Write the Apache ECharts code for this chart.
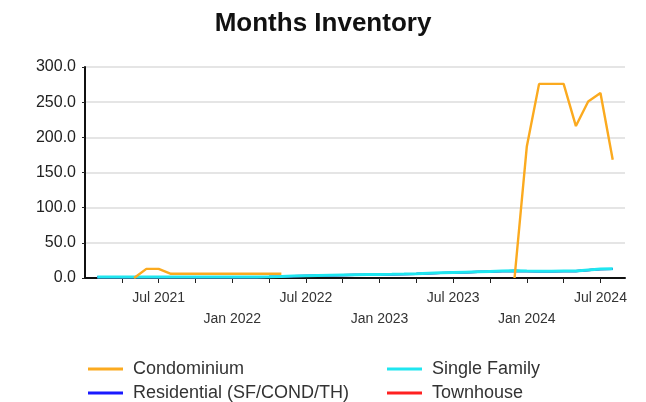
<!DOCTYPE html>
<html>
<head>
<meta charset="utf-8">
<script src="https://cdn.jsdelivr.net/npm/echarts@6/dist/echarts.min.js"></script>
<style>html,body{margin:0;padding:0;background:#fff}#c{width:646px;height:402px}</style>
</head>
<body>
<div id="c"></div>
<script>
const months = [];
const monthNames = ['Jan','Feb','Mar','Apr','May','Jun','Jul','Aug','Sep','Oct','Nov','Dec'];
for (let y = 2021; y <= 2024; y++) for (let m = 0; m < 12; m++) { if (y === 2024 && m > 8) break; months.push(monthNames[m] + ' ' + y); }

// Jan 2021 .. Sep 2024 (45 months)
const condominium = [
  null, null, null, null, 0, 13, 13, 6, 6, 6, 6, 6,
  6, 6, 6, 6, 6, null, null, null, null, null, null, null,
  null, null, null, null, null, null, null, null, null, null, null, 0,
  187, 276, 276, 276, 216, 251, 263, 168, null
];
const singleFamily = [
  null, 1.5, 1.5, 1.5, 1.5, 1.5, 1.5, 1.5, 1.5, 1.5, 1.5, 1.5,
  1.5, 1.5, 1.5, 1.8, 2.2, 2.8, 3.2, 3.6, 4.0, 4.3, 4.6, 4.8,
  5.0, 5.3, 5.7, 6.2, 6.8, 7.3, 7.8, 8.3, 8.8, 9.3, 9.8, 10.3,
  9.8, 9.5, 9.6, 9.8, 10.0, 11.5, 12.8, 13.0, null
];
const residential = [
  null, 1.3, 1.3, 1.3, 1.3, 1.3, 1.3, 1.3, 1.3, 1.3, 1.3, 1.3,
  1.3, 1.3, 1.3, 1.6, 2.0, 2.6, 3.0, 3.4, 3.8, 4.1, 4.4, 4.6,
  4.8, 5.1, 5.5, 6.0, 6.6, 7.1, 7.6, 8.1, 8.6, 9.1, 9.6, 10.1,
  9.6, 9.3, 9.4, 9.6, 9.8, 11.3, 12.6, 12.8, null
];
const townhouse = [
  null, 1.3, 1.3, 1.3, 1.3, 1.3, 1.3, 1.3, 1.3, 1.3, 1.3, 1.3,
  1.3, 1.3, 1.3, 1.6, 2.0, 2.6, 3.0, 3.4, 3.8, 4.1, 4.4, 4.6,
  4.8, 5.1, 5.5, 6.0, 6.6, 7.1, 7.6, 8.1, 8.6, 9.1, 9.6, 10.1,
  9.6, 9.3, 9.4, 9.6, 9.8, 11.3, 12.6, 12.8, null
];

const FONT = '"Liberation Sans", Arial, sans-serif';
const chart = echarts.init(document.getElementById('c'));
function leg(name, left, top) {
  return { data: [name], left, top, padding: 0, itemWidth: 35, itemHeight: 3, icon: 'rect',
    textStyle: { fontFamily: FONT, fontSize: 18, color: '#333', padding: [0,0,0,5] } };
}
function line(name, data, color, z, w) {
  return { name, type: 'line', data, showSymbol: false, symbol: 'none', z,
    lineStyle: { color, width: w }, itemStyle: { color }, connectNulls: false };
}
chart.setOption({
  animation: false,
  title: { text: 'Months Inventory', left: 'center', top: 6,
    textStyle: { fontFamily: FONT, fontSize: 26, fontWeight: 'bold', color: '#111' } },
  legend: [
    leg('Condominium', 88, 360),
    leg('Residential (SF/COND/TH)', 88, 384),
    leg('Single Family', 387, 360),
    leg('Townhouse', 387, 384)
  ],
  grid: { left: 85, right: 21, top: 67, bottom: 124, containLabel: false },
  xAxis: {
    type: 'category', data: months, boundaryGap: false,
    axisLine: { lineStyle: { color: '#111', width: 2 } },
    axisTick: { interval: (i) => i % 3 === 0 && i > 0, length: 5, lineStyle: { color: '#222', width: 1 } },
    axisLabel: {
      interval: (i, v) => i > 0 && (v.startsWith('Jul') || v.startsWith('Jan')),
      formatter: (v) => v.startsWith('Jan') ? '\n' + v : v,
      fontFamily: FONT, fontSize: 14, color: '#333', lineHeight: 21, margin: 10
    },
    splitLine: { show: false }
  },
  yAxis: {
    type: 'value', min: 0, max: 300, interval: 50,
    axisLine: { show: true, lineStyle: { color: '#111', width: 2 } },
    axisTick: { show: true, length: 3, lineStyle: { color: '#222' } },
    axisLabel: { formatter: (v) => v.toFixed(1), fontFamily: FONT, fontSize: 16, color: '#222', margin: 9 },
    splitLine: { lineStyle: { color: '#ddd', width: 1.5 } }
  },
  series: [
    line('Townhouse', townhouse, '#ff2020', 2, 2.2),
    line('Residential (SF/COND/TH)', residential, '#1a1aff', 3, 2.2),
    line('Single Family', singleFamily, '#1fe6f0', 4, 3),
    line('Condominium', condominium, '#fbaa1f', 5, 2.4)
  ]
});
</script>
</body>
</html>
